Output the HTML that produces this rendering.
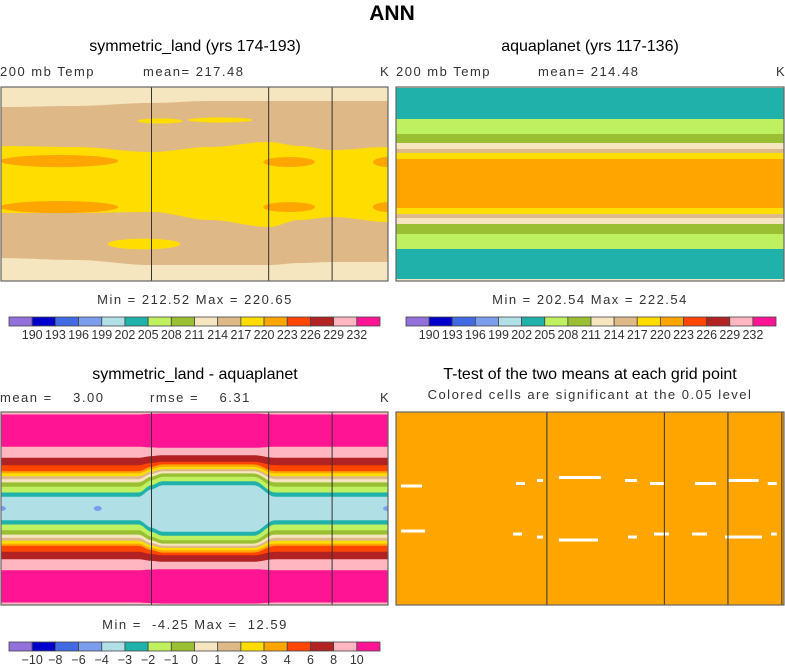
<!DOCTYPE html>
<html><head><meta charset="utf-8">
<style>
html,body{margin:0;padding:0;background:#fff;}
svg{display:block;font-family:"Liberation Sans",sans-serif;}
.t{font-size:16px;fill:#000;}
.s{font-size:13px;fill:#333;letter-spacing:1.5px;}
</style></head>
<body>
<svg id="fig" width="785" height="664" viewBox="0 0 785 664" xmlns="http://www.w3.org/2000/svg">
<text x="392" y="20" text-anchor="middle" font-weight="bold" font-size="21">ANN</text>
<text class="t" x="195" y="51" text-anchor="middle">symmetric_land (yrs 174-193)</text>
<text class="s" x="0" y="76">200 mb Temp</text>
<text class="s" x="143" y="76">mean= 217.48</text>
<text class="s" x="380" y="76">K</text>
<text class="t" x="590" y="51" text-anchor="middle">aquaplanet (yrs 117-136)</text>
<text class="s" x="396" y="76">200 mb Temp</text>
<text class="s" x="538" y="76">mean= 214.48</text>
<text class="s" x="776" y="76">K</text>
<text class="s" x="195" y="304" text-anchor="middle">Min = 212.52 Max = 220.65</text>
<text class="s" x="590" y="304" text-anchor="middle">Min = 202.54 Max = 222.54</text>
<text class="t" x="195" y="379" text-anchor="middle">symmetric_land - aquaplanet</text>
<text class="s" x="0" y="402" xml:space="preserve">mean =    3.00</text>
<text class="s" x="150" y="402" xml:space="preserve">rmse =    6.31</text>
<text class="s" x="380" y="402">K</text>
<text class="t" x="590" y="379" text-anchor="middle">T-test of the two means at each grid point</text>
<text class="s" x="590" y="399" text-anchor="middle">Colored cells are significant at the 0.05 level</text>
<text class="s" x="195" y="629" text-anchor="middle" xml:space="preserve">Min =  -4.25 Max =  12.59</text>
<g id="layer"></g>
</svg>
<script>
const NS="http://www.w3.org/2000/svg";
const layer=document.getElementById('layer');
const PALETTE=["#9370db","#0000cd","#4169e1","#7b9ded","#b0e0e6","#20b2aa","#bef060","#9abf32","#f5e6c0","#deb887","#ffdd00","#ffa500","#ff4500","#b22222","#ffb6c1","#ff1493"];
const TEMP_LABELS=["190","193","196","199","202","205","208","211","214","217","220","223","226","229","232"];
const DIFF_LABELS=["\u221210","\u22128","\u22126","\u22124","\u22123","\u22122","\u22121","0","1","2","3","4","6","8","10"];
const p1Lons=[0,69,140,194,249,278,308,360];
const p1CreamTanTop=[71.4,72.4,75.2,77,77,77,77,77];
const p1TanYellowTop=[35.2,34.3,29.7,34.3,39,35.2,31.5,34.3];
const p1YellowTanBot=[-26.9,-26.9,-26,-33.4,-39.9,-33.4,-30.6,-35.3];
const p1TanCreamBot=[-68.7,-70.5,-75.2,-75.2,-75.2,-73.3,-72.4,-72.4];
const p1BlobLon=[54,54,268,268,360,360,148,204,133];
const p1BlobLat=[21.3,-21.4,20.4,-21.4,20.4,-21.4,58.5,59.4,-55.7];
const p1BlobDLon=[55,55,24,24,14,14,21,30,34];
const p1BlobDLat=[5.6,5.6,4.6,4.6,4.6,4.6,2.4,2.4,5];
const p1BlobColor=[11,11,11,11,11,11,10,10,10];
const p2Edges=[90,89.1,60.3,46.4,38,32.5,28.8,23.2,-22.3,-27.9,-31.6,-37.1,-46.4,-60.3,-88.2,-90];
const p2Colors=[8,5,6,7,8,9,10,11,10,9,8,7,6,5,8];
const p3Colors=[4,5,6,7,8,9,10,11,12,13,14,15];
const p3Narrow=[10.9,14.9,20.2,24.3,27.3,30.1,32.7,34.8,40.4,47.3,57.6,87.7];
const p3Wide=[21.7,25.5,29.6,32.7,34.8,36.7,38.9,41.1,43.6,49.7,56.6,88.6];
const p3WLons=[0,128,140,150,235,255,360];
const p3WVals=[0,0,0.65,1,1,0,0];
const p3SmallLon=[0,90,360];
const p4Lon0=[4.6,111.3,130.8,151.2,212.5,235.7,277.5,308.6,344.9,4.6,108.6,130.8,151.2,215.3,239.4,274.7,305.3,348];
const p4Lon1=[24.1,119.7,136.4,190.2,223.6,249.6,297,336.5,353.3,26.9,116.9,136.4,187.4,223.6,253.3,288.6,339.6,353.3];
const p4Lat=[21,23.3,26.1,28.9,26.1,23.3,23.3,26.1,23.3,-21,-23.8,-26.6,-29.4,-26.6,-23.8,-23.8,-26.6,-23.8];
const landLons=[140,249,308];

const P1={x0:1,y0:87,w:387,h:194},P2={x0:396,y0:87,w:388,h:194},P3={x0:1,y0:412,w:387,h:193},P4={x0:396,y0:412,w:388,h:193};
function xS(lon,p){return p.x0+lon/360*p.w;}
function yS(lat,p){return p.y0+(90-lat)/180*p.h;}
function interp(xs,ys,x){
  if(x<=xs[0])return ys[0];
  for(let i=1;i<xs.length;i++){if(x<=xs[i]){const t=(x-xs[i-1])/(xs[i]-xs[i-1]);const s=(1-Math.cos(Math.PI*t))/2;return ys[i-1]+(ys[i]-ys[i-1])*s;}}
  return ys[ys.length-1];
}
function mk(tag,attrs,parent){const e=document.createElementNS(NS,tag);for(const k in attrs)e.setAttribute(k,attrs[k]);(parent||layer).appendChild(e);return e;}
function bandPath(p,topF,botF){
  let d="";const pts=[];
  for(let lon=0;lon<=360;lon+=3)pts.push(lon);
  pts.forEach((lon,i)=>{d+=(i?"L":"M")+xS(lon,p).toFixed(1)+","+yS(topF(lon),p).toFixed(1);});
  pts.slice().reverse().forEach(lon=>{d+="L"+xS(lon,p).toFixed(1)+","+yS(botF(lon),p).toFixed(1);});
  return d+"Z";
}
function clip(id,p){const cp=mk('clipPath',{id:id});mk('rect',{x:p.x0,y:p.y0,width:p.w,height:p.h},cp);}
function frame(p,name,lands){
  if(lands)landLons.forEach(l=>{const ln=mk('line',{x1:xS(l,p),x2:xS(l,p),y1:p.y0,y2:p.y0+p.h,stroke:'#333','stroke-width':1});});
  const r=mk('rect',{x:p.x0,y:p.y0,width:p.w,height:p.h,fill:'none',stroke:'#666','stroke-width':1.2});
  
}
function colorbar(x0,y0,w,labels,name){
  const g=mk('g',{});
  const bw=w/PALETTE.length;
  PALETTE.forEach((c,i)=>{const r=mk('rect',{x:x0+i*bw,y:y0,width:bw,height:9,fill:c,stroke:'#444','stroke-width':0.8},g);});
  labels.forEach((t,i)=>{const tx=mk('text',{x:x0+(i+1)*bw,y:y0+22,'text-anchor':'middle','font-size':12.5,fill:'#333'},g);tx.textContent=t;});
}
clip('c1',P1);
const g1=mk('g',{'clip-path':'url(#c1)'});
mk('rect',{x:P1.x0,y:P1.y0,width:P1.w,height:P1.h,fill:PALETTE[8]},g1);
mk('path',{d:bandPath(P1,l=>interp(p1Lons,p1CreamTanTop,l),l=>interp(p1Lons,p1TanCreamBot,l)),fill:PALETTE[9]},g1);
mk('path',{d:bandPath(P1,l=>interp(p1Lons,p1TanYellowTop,l),l=>interp(p1Lons,p1YellowTanBot,l)),fill:PALETTE[10]},g1);
p1BlobLon.forEach((lon,i)=>{const e=mk('ellipse',{cx:xS(lon,P1),cy:yS(p1BlobLat[i],P1),rx:p1BlobDLon[i]/360*P1.w,ry:p1BlobDLat[i]/180*P1.h,fill:PALETTE[p1BlobColor[i]]},g1);});
frame(P1,'panel1',true);
const g2=mk('g',{});
p2Colors.forEach((c,i)=>{const r=mk('rect',{x:P2.x0,y:yS(p2Edges[i],P2),width:P2.w,height:yS(p2Edges[i+1],P2)-yS(p2Edges[i],P2),fill:PALETTE[c]},g2);});
frame(P2,'panel2',false);
clip('c3',P3);
const g3=mk('g',{'clip-path':'url(#c3)'});
mk('rect',{x:P3.x0,y:P3.y0,width:P3.w,height:P3.h,fill:PALETTE[14]},g3);
for(let i=p3Colors.length-1;i>=0;i--){
  const f=l=>{const w=interp(p3WLons,p3WVals,l);return p3Narrow[i]+w*(p3Wide[i]-p3Narrow[i]);};
  const pa=mk('path',{d:bandPath(P3,l=>f(l),l=>-f(l)),fill:PALETTE[p3Colors[i]]},g3);
  
}
p3SmallLon.forEach(l=>{mk('ellipse',{cx:xS(l,P3),cy:yS(0,P3),rx:l===90?4:5,ry:2.5,fill:PALETTE[3]},g3);});
frame(P3,'panel3',true);
const g4=mk('g',{});
mk('rect',{x:P4.x0,y:P4.y0,width:P4.w,height:P4.h,fill:PALETTE[11]},g4);
p4Lon0.forEach((l0,i)=>{const r=mk('rect',{x:xS(l0,P4),y:yS(p4Lat[i],P4)-1.5,width:xS(p4Lon1[i],P4)-xS(l0,P4),height:3,fill:'#fff'},g4);});
[140,249,308,358].forEach(l=>{mk('line',{x1:xS(l,P4),x2:xS(l,P4),y1:P4.y0,y2:P4.y0+P4.h,stroke:'#333','stroke-width':1},g4);});
frame(P4,'panel4',false);
colorbar(9,317,371,TEMP_LABELS,'panel1-colorbar');
colorbar(406,317,370,TEMP_LABELS,'panel2-colorbar');
colorbar(9,642,371,DIFF_LABELS,'panel3-colorbar');
</script>
</body></html>
